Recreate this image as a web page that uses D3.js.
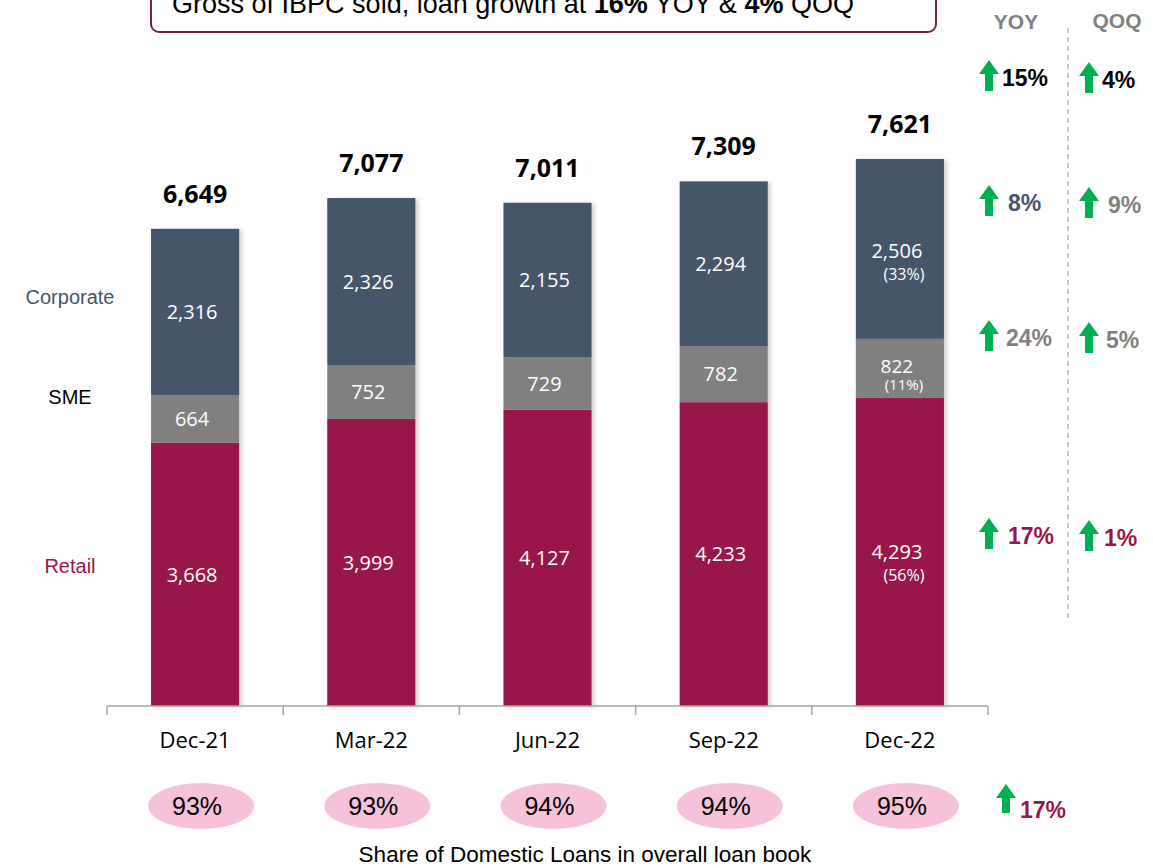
<!DOCTYPE html>
<html>
<head>
<meta charset="utf-8">
<script src="https://cdn.jsdelivr.net/npm/d3@7"></script>
<style>
  body { margin: 0; background: #fff; }
  svg { display: block; }
  .seg-label { font-family: 'Open Sans', sans-serif; fill: #fff; }
  .arial { font-family: 'Liberation Sans', Arial, sans-serif; }
</style>
</head>
<body>
<div id="chart"></div>
<script>
// Data
const quarters = ['Dec-21', 'Mar-22', 'Jun-22', 'Sep-22', 'Dec-22'];
const retail = [3668, 3999, 4127, 4233, 4293];
const sme = [664, 752, 729, 782, 822];
const corporate = [2316, 2326, 2155, 2294, 2506];
const totals = [6649, 7077, 7011, 7309, 7621];
const lastShares = { retail: '(56%)', sme: '(11%)', corporate: '(33%)' };
const domesticShare = ['93%', '93%', '94%', '94%', '95%'];
const segmentNames = ['Retail', 'SME', 'Corporate'];
const yoyGrowth = ['15%', '8%', '24%', '17%'];
const qoqGrowth = ['4%', '9%', '5%', '1%'];
const domesticGrowth = '17%';

const config = {
  width: 1153,
  height: 868,
  colours: { retail: '#99154b', sme: '#808080', corporate: '#44546a' },
  green: '#00b050'
};

const svg = d3.select('#chart').append('svg')
  .attr('width', config.width)
  .attr('height', config.height);

const defs = svg.append('defs');
const shadow = defs.append('filter').attr('id', 'shadow')
  .attr('x', '-10%').attr('y', '-5%').attr('width', '130%').attr('height', '115%');
shadow.append('feDropShadow')
  .attr('dx', 3).attr('dy', 1).attr('stdDeviation', 2)
  .attr('flood-color', '#000').attr('flood-opacity', 0.18);

// Scales
const x = d3.scaleBand().domain(quarters).range([107, 988]).paddingInner(0.5).paddingOuter(0.25);
const y = d3.scaleLinear().domain([0, 9000]).range([706, 60]);

// Stack data
const rows = quarters.map((q, i) => ({ quarter: q, retail: retail[i], sme: sme[i], corporate: corporate[i] }));
const keys = ['retail', 'sme', 'corporate'];
const series = d3.stack().keys(keys)(rows);

// Headline box (top edge runs off the page, as in the slide)
svg.append('rect')
  .attr('x', 151).attr('y', -20)
  .attr('width', 785).attr('height', 52)
  .attr('rx', 8)
  .attr('fill', '#fff')
  .attr('stroke', '#7b1d44')
  .attr('stroke-width', 2);

svg.append('text')
  .attr('class', 'arial')
  .attr('x', 513).attr('y', 13)
  .attr('text-anchor', 'middle')
  .attr('font-size', 27)
  .attr('fill', '#000')
  .call(t => {
    t.append('tspan').text('Gross of IBPC sold, loan growth at ');
    t.append('tspan').attr('font-weight', 'bold').text('16%');
    t.append('tspan').text(' YOY & ');
    t.append('tspan').attr('font-weight', 'bold').text('4%');
    t.append('tspan').text(' QOQ');
  });

// Bars
const barGroup = svg.append('g').attr('filter', 'url(#shadow)');
barGroup.selectAll('g.series')
  .data(series)
  .join('g')
  .attr('class', 'series')
  .attr('fill', d => config.colours[d.key])
  .selectAll('rect')
  .data(d => d)
  .join('rect')
  .attr('x', d => x(d.data.quarter))
  .attr('y', d => y(d[1]))
  .attr('width', x.bandwidth())
  .attr('height', d => y(d[0]) - y(d[1]));

// Segment labels
const fmt = d3.format(',');
series.forEach(s => {
  s.forEach((d, i) => {
    const cx = x(d.data.quarter) + x.bandwidth() / 2 - 3;
    const cy = (y(d[0]) + y(d[1])) / 2;
    const isLast = i === quarters.length - 1;
    const pctGap = s.key === 'sme' ? 18 : 23;
    const valueY = isLast ? cy + (s.key === 'corporate' ? 2 : (s.key === 'sme' ? -2 : 0)) : cy;
    svg.append('text')
      .attr('class', 'seg-label')
      .attr('x', cx).attr('y', valueY)
      .attr('dy', '0.36em')
      .attr('text-anchor', 'middle')
      .attr('font-size', isLast && s.key === 'sme' ? 19 : 20)
      .text(fmt(d.data[s.key]));
    if (isLast) {
      svg.append('text')
        .attr('class', 'seg-label')
        .attr('x', cx + 7).attr('y', valueY + pctGap)
        .attr('dy', '0.36em')
        .attr('text-anchor', 'middle')
        .attr('font-size', s.key === 'sme' ? 15 : 16)
        .text(lastShares[s.key]);
    }
  });
});

// Totals
svg.selectAll('.total')
  .data(quarters)
  .join('text')
  .attr('class', 'total')
  .attr('x', d => x(d) + x.bandwidth() / 2)
  .attr('y', (d, i) => y(totals[i]) - 35)
  .attr('dy', '0.36em')
  .attr('text-anchor', 'middle')
  .attr('font-family', "'Open Sans', sans-serif")
  .attr('font-weight', 'bold')
  .attr('font-size', 25)
  .attr('fill', '#000')
  .text((d, i) => fmt(totals[i]));

// Axis
const axisG = svg.append('g');
axisG.append('line')
  .attr('x1', 107).attr('x2', 988)
  .attr('y1', y(0)).attr('y2', y(0))
  .attr('stroke', '#a6a6a6').attr('stroke-width', 1.5);
const edges = d3.range(quarters.length + 1).map(i => 107 + i * (881 / quarters.length));
axisG.selectAll('.tick-line')
  .data(edges)
  .join('line')
  .attr('x1', d => d).attr('x2', d => d)
  .attr('y1', y(0)).attr('y2', y(0) + 9)
  .attr('stroke', '#a6a6a6').attr('stroke-width', 1.5);

svg.selectAll('.cat')
  .data(quarters)
  .join('text')
  .attr('x', d => x(d) + x.bandwidth() / 2)
  .attr('y', 740)
  .attr('dy', '0.36em')
  .attr('text-anchor', 'middle')
  .attr('font-family', "'Open Sans', sans-serif")
  .attr('font-size', 22)
  .attr('fill', '#000')
  .text(d => d);

// Left segment names
const nameY = { Retail: 566, SME: 397, Corporate: 297 };
const nameColour = { Retail: config.colours.retail, SME: '#000', Corporate: config.colours.corporate };
svg.selectAll('.seg-name')
  .data(segmentNames)
  .join('text')
  .attr('class', 'arial')
  .attr('x', 70)
  .attr('y', d => nameY[d])
  .attr('dy', '0.36em')
  .attr('text-anchor', 'middle')
  .attr('font-size', 20)
  .attr('fill', d => nameColour[d])
  .text(d => d);

// Domestic share ellipses
svg.selectAll('.share-ell')
  .data(domesticShare)
  .join('ellipse')
  .attr('cx', (d, i) => x(quarters[i]) + x.bandwidth() / 2 + 6)
  .attr('cy', 806)
  .attr('rx', 53).attr('ry', 23)
  .attr('fill', '#f5c2da');

svg.selectAll('.share-txt')
  .data(domesticShare)
  .join('text')
  .attr('class', 'arial')
  .attr('x', (d, i) => x(quarters[i]) + x.bandwidth() / 2 + 2)
  .attr('y', 806)
  .attr('dy', '0.36em')
  .attr('text-anchor', 'middle')
  .attr('font-size', 25)
  .attr('fill', '#000')
  .text(d => d);

svg.append('text')
  .attr('class', 'arial')
  .attr('x', 585).attr('y', 862)
  .attr('text-anchor', 'middle')
  .attr('font-size', 22.5)
  .attr('fill', '#000')
  .text('Share of Domestic Loans in overall loan book');

// Growth panel
function arrow(g, ax, ay, h) {
  // ax: centre x, ay: tip y
  const w = 20, shaft = 8, head = 14;
  g.append('path')
    .attr('d', `M${ax},${ay} L${ax + w / 2},${ay + head} L${ax + shaft / 2},${ay + head} L${ax + shaft / 2},${ay + h} L${ax - shaft / 2},${ay + h} L${ax - shaft / 2},${ay + head} L${ax - w / 2},${ay + head} Z`)
    .attr('fill', config.green);
}

const panel = svg.append('g');
panel.append('text').attr('class', 'arial')
  .attr('x', 1016).attr('y', 21).attr('dy', '0.36em')
  .attr('text-anchor', 'middle').attr('font-size', 21).attr('font-weight', 'bold')
  .attr('fill', '#808080').text('YOY');
panel.append('text').attr('class', 'arial')
  .attr('x', 1117).attr('y', 20).attr('dy', '0.36em')
  .attr('text-anchor', 'middle').attr('font-size', 21).attr('font-weight', 'bold')
  .attr('fill', '#808080').text('QOQ');
panel.append('line')
  .attr('x1', 1068).attr('x2', 1068).attr('y1', 28).attr('y2', 622)
  .attr('stroke', '#a6a6a6').attr('stroke-width', 1.2)
  .attr('stroke-dasharray', '5,4');

const rowY = [78, 203, 338, 536];
const rowColour = ['#000', config.colours.corporate, '#808080', config.colours.retail];
const qoqColour = ['#000', '#808080', '#808080', config.colours.retail];
const yoyTextX = [1002, 1008, 1006, 1008];
const qoqTextX = [1102, 1108, 1106, 1104];

rowY.forEach((ry, i) => {
  arrow(panel, 989, ry - 18, 31);
  arrow(panel, 1089, ry - 16, 31);
  panel.append('text').attr('class', 'arial')
    .attr('x', yoyTextX[i]).attr('y', ry).attr('dy', '0.36em')
    .attr('font-size', 23).attr('font-weight', 'bold')
    .attr('fill', rowColour[i]).text(yoyGrowth[i]);
  panel.append('text').attr('class', 'arial')
    .attr('x', qoqTextX[i]).attr('y', ry + 2).attr('dy', '0.36em')
    .attr('font-size', 23).attr('font-weight', 'bold')
    .attr('fill', qoqColour[i]).text(qoqGrowth[i]);
});

arrow(panel, 1006, 784, 29);
panel.append('text').attr('class', 'arial')
  .attr('x', 1020).attr('y', 810).attr('dy', '0.36em')
  .attr('font-size', 23).attr('font-weight', 'bold')
  .attr('fill', config.colours.retail).text(domesticGrowth);
</script>
</body>
</html>
